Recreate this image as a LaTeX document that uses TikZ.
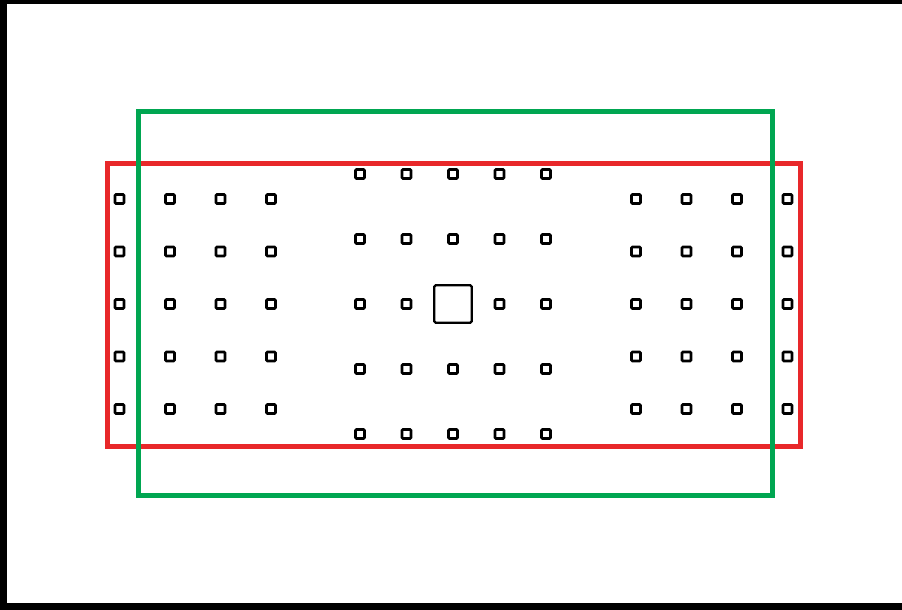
\documentclass[tikz,border=0pt]{standalone}
\definecolor{rojo}{RGB}{232,40,42}
\definecolor{verde}{RGB}{0,166,81}
\tikzset{
  hueco/.style={draw=black, line width=2.6pt, minimum size=9pt, inner sep=0pt, rounded corners=1pt},
  central/.style={draw=black, line width=2.4pt, minimum size=37.5pt, inner sep=0pt, rounded corners=1.5pt}
}
\begin{document}
\begin{tikzpicture}[x=1pt,y=-1pt] % una unidad = un pixel de la imagen

    \useasboundingbox (0,0) rectangle (902,610);

    % Marco exterior (sin lado derecho)
    \draw[line width=4.5pt] (902,2.25) -- (0,2.25);
    \draw[line width=7pt] (3.5,0) -- (3.5,610);
    \draw[line width=7pt] (0,606.5) -- (902,606.5);

    % Huecos laterales
    \foreach \i/\x in {1/119.5,2/170,3/220.5,4/271} {
      \foreach \j/\y in {1/199,2/251.5,3/304,4/356.5,5/409} {
        \node[hueco] (izq-\i-\j) at (\x,\y) {};
      }
    }
    \foreach \i/\x in {1/636,2/686.5,3/737,4/787.5} {
      \foreach \j/\y in {1/199,2/251.5,3/304,4/356.5,5/409} {
        \node[hueco] (der-\i-\j) at (\x,\y) {};
      }
    }

    % Huecos centrales
    \foreach \i/\x in {1/360,2/406.5,3/453,4/499.5,5/546} {
      \foreach \j/\y in {1/174,2/239,4/369,5/434} {
        \node[hueco] (cen-\i-\j) at (\x,\y) {};
      }
    }
    \foreach \i/\x in {1/360,2/406.5,4/499.5,5/546} {
      \node[hueco] (cen-\i-3) at (\x,304) {};
    }
    \node[central] (centro) at (453,304) {};

    % Rectangulo rojo
    \draw[rojo, line width=5pt] (107.5,163) rectangle (800.5,446.5);

    % Rectangulo verde
    \draw[verde, line width=5pt] (138,111) rectangle (772.5,495.5);
\end{tikzpicture}
\end{document}
